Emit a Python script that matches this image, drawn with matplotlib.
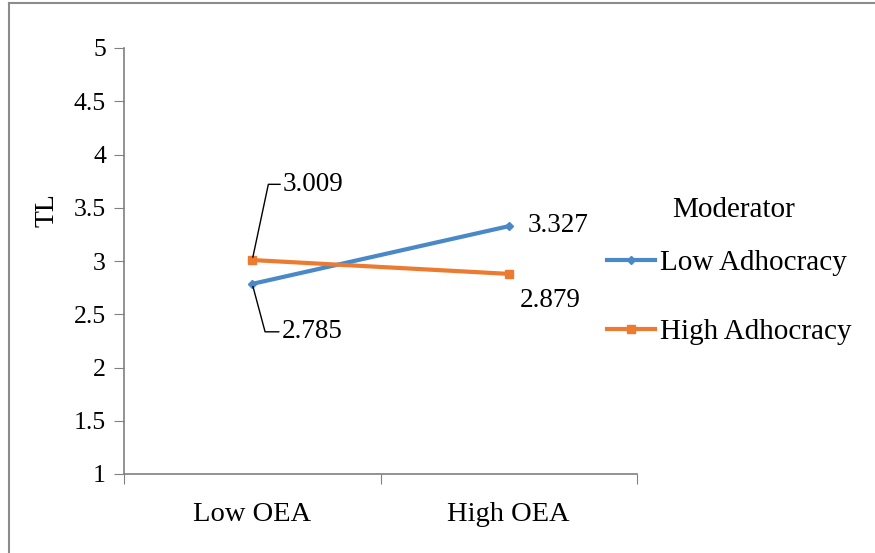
import matplotlib
matplotlib.use("Agg")
import matplotlib.pyplot as plt
from matplotlib.lines import Line2D

categories = ["Low OEA", "High OEA"]
low_adhocracy = [2.785, 3.327]
high_adhocracy = [3.009, 2.879]
series_names = ["Low Adhocracy", "High Adhocracy"]
legend_title = "Moderator"
y_ticks = [1, 1.5, 2, 2.5, 3, 3.5, 4, 4.5, 5]
y_tick_labels = ["1", "1.5", "2", "2.5", "3", "3.5", "4", "4.5", "5"]

blue = "#4A88C7"
orange = "#EC7A30"
axis_gray = "#808080"

plt.rcParams["font.family"] = ["Liberation Serif", "DejaVu Serif"]

fig = plt.figure(figsize=(8.75, 5.53), dpi=100)
ax = fig.add_axes([124 / 875, 1 - 474 / 553, (637 - 124) / 875, (474 - 48) / 553])

x = list(range(len(categories)))
ax.plot(x, low_adhocracy, color=blue, lw=3, marker="D", ms=4.5,
        solid_capstyle="round", label=series_names[0])
ax.plot(x, high_adhocracy, color=orange, lw=3, marker="s", ms=6,
        solid_capstyle="round", label=series_names[1])

ax.set_xlim(-0.5, 1.5)
ax.set_ylim(1, 5)
ax.set_yticks(y_ticks)
ax.set_yticklabels(y_tick_labels)
ax.set_xticks([-0.5, 0.5, 1.5], minor=False)
ax.set_xticklabels([])
ax.set_xticks(x, minor=True)
ax.set_xticklabels(categories, minor=True, fontsize=20.5)
ax.tick_params(axis="x", which="minor", length=0, pad=20)
ax.tick_params(axis="x", which="major", length=7, color=axis_gray, direction="out")
ax.tick_params(axis="y", length=7, color=axis_gray, direction="out", labelsize=18.5, pad=6)

for side in ["top", "right"]:
    ax.spines[side].set_visible(False)
for side in ["left", "bottom"]:
    ax.spines[side].set_color(axis_gray)
    ax.spines[side].set_linewidth(1.2)

ax.set_ylabel("TL", fontsize=20)
ax.yaxis.set_label_coords(-0.125, 0.62)

# value labels with leader lines at the Low OEA points
ax.annotate(f"{high_adhocracy[0]:.3f}", xy=(x[0], high_adhocracy[0]),
            xytext=(x[0] + 0.12, 3.72), fontsize=19.5, va="center", ha="left",
            arrowprops=dict(arrowstyle="-", color="black", lw=1,
                            connectionstyle="angle,angleA=0,angleB=78,rad=0",
                            shrinkA=0, shrinkB=2))
ax.annotate(f"{low_adhocracy[0]:.3f}", xy=(x[0], low_adhocracy[0]),
            xytext=(x[0] + 0.115, 2.335), fontsize=19.5, va="center", ha="left",
            arrowprops=dict(arrowstyle="-", color="black", lw=1,
                            connectionstyle="angle,angleA=0,angleB=-75,rad=0",
                            shrinkA=0, shrinkB=2))
ax.text(x[1] + 0.074, low_adhocracy[1] + 0.01, f"{low_adhocracy[1]:.3f}",
        fontsize=19.5, va="center", ha="left")
ax.text(x[1] + 0.043, high_adhocracy[1] - 0.25, f"{high_adhocracy[1]:.3f}",
        fontsize=19.5, va="center", ha="left")

# legend: title placed above the entries
fig.text(672 / 875, 1 - 210 / 553, legend_title, fontsize=21, ha="left", va="center")
handles = [Line2D([], [], color=blue, lw=3, marker="D", ms=4.5),
           Line2D([], [], color=orange, lw=3, marker="s", ms=6)]
fig.legend(handles, series_names,
           loc="upper left", bbox_to_anchor=(607 / 875, 1 - 250 / 553),
           frameon=False, fontsize=21,
           handlelength=1.64, handletextpad=0.17, labelspacing=1.44,
           borderaxespad=0, borderpad=0)

# outer frame lines along the top and left edges
fig.add_artist(Line2D([9 / 875, 1], [1 - 3 / 553, 1 - 3 / 553], color="#8c8c8c", lw=1.5))
fig.add_artist(Line2D([9 / 875, 9 / 875], [0, 1 - 3 / 553], color="#8c8c8c", lw=1.5))

fig.savefig("out.png", dpi=100)
